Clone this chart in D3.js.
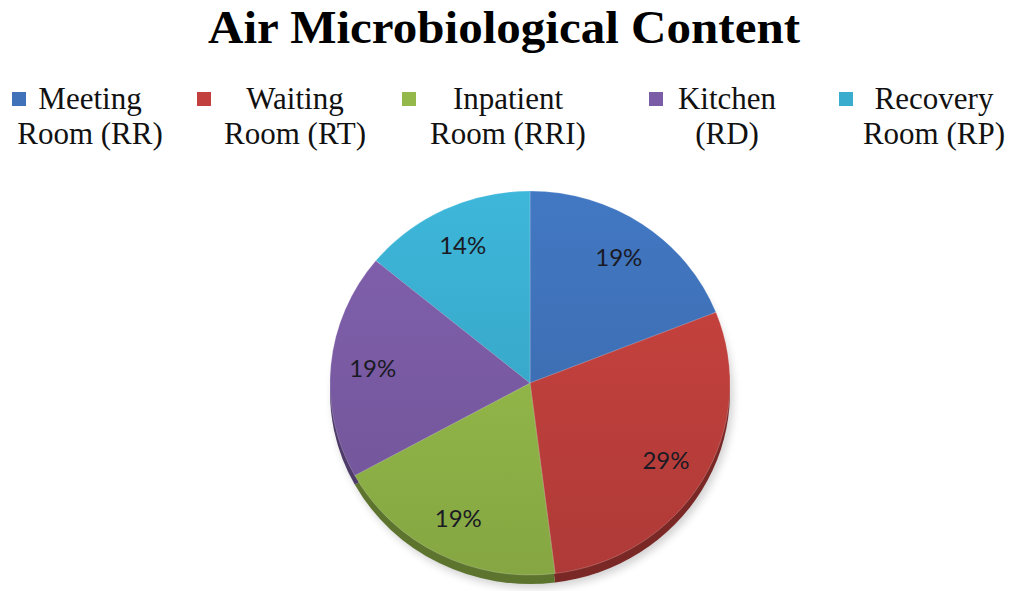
<!DOCTYPE html>
<html>
<head>
<meta charset="utf-8">
<script src="https://cdn.jsdelivr.net/npm/d3@7"></script>
<style>
  body { margin: 0; background: #fff; }
  .title { font-family: "Liberation Serif", serif; font-weight: bold; }
  .legend text { font-family: "Liberation Serif", serif; fill: #111; }
  .pct { font-family: Lato, "Open Sans", sans-serif; fill: #1a1a24; }
</style>
</head>
<body>
<div id="chart"></div>
<script>
// chart data
const categories = ["Meeting Room (RR)", "Waiting Room (RT)", "Inpatient Room (RRI)", "Kitchen (RD)", "Recovery Room (RP)"];
const legendLines = [["Meeting", "Room (RR)"], ["Waiting", "Room (RT)"], ["Inpatient", "Room (RRI)"], ["Kitchen", "(RD)"], ["Recovery", "Room (RP)"]];
const values = [19, 29, 19, 19, 14];
const colors = ["#3f72b9", "#c2403d", "#94b94a", "#7b5ca6", "#3aadcf"];

// layout
const width = 1011, height = 591;
const legendMarkX = [12, 197, 402, 649, 839];
const legendTextX = [90, 295, 508, 727, 934];

const svg = d3.select("#chart").append("svg")
    .attr("width", width)
    .attr("height", height);

// title
svg.append("text")
    .attr("class", "title")
    .attr("x", 504)
    .attr("y", 43)
    .attr("text-anchor", "middle")
    .attr("font-size", 47)
    .attr("textLength", 592)
    .attr("lengthAdjust", "spacingAndGlyphs")
    .text("Air Microbiological Content");

// legend
const legend = svg.append("g").attr("class", "legend");
categories.forEach((c, i) => {
    legend.append("rect")
        .attr("x", legendMarkX[i])
        .attr("y", 92)
        .attr("width", 14)
        .attr("height", 14)
        .attr("fill", colors[i]);
    const t = legend.append("text")
        .attr("text-anchor", "middle")
        .attr("font-size", 31);
    legendLines[i].forEach((line, j) => {
        t.append("tspan")
            .attr("x", legendTextX[i])
            .attr("y", 109 + j * 35)
            .text(line);
    });
});

// pie
const cx = 530, cy = 383, r = 200, sy = 0.96, depth = 9;

const defs = svg.append("defs");
colors.forEach((c, i) => {
    const g = defs.append("linearGradient")
        .attr("id", "grad" + i)
        .attr("gradientUnits", "userSpaceOnUse")
        .attr("x1", 0).attr("y1", -r)
        .attr("x2", 0).attr("y2", r);
    g.append("stop").attr("offset", "0%").attr("stop-color", d3.color(c).brighter(0.15));
    g.append("stop").attr("offset", "100%").attr("stop-color", d3.color(c).darker(0.3));
});

const shadow = defs.append("filter").attr("id", "blur")
    .attr("x", "-20%").attr("y", "-20%").attr("width", "140%").attr("height", "140%");
shadow.append("feGaussianBlur").attr("stdDeviation", 4);

const pie = d3.pie().sort(null).value(d => d);
const arc = d3.arc().innerRadius(0).outerRadius(r);
const labelArc = d3.arc().innerRadius(r * 0.79).outerRadius(r * 0.79);
const arcs = pie(values);

// soft shadow under the disc
svg.append("ellipse")
    .attr("cx", cx + 3)
    .attr("cy", cy + depth + 4)
    .attr("rx", r)
    .attr("ry", r * sy)
    .attr("fill", "#000")
    .attr("opacity", 0.18)
    .attr("filter", "url(#blur)");

// 3d edge
svg.append("g")
    .attr("transform", `translate(${cx}, ${cy + depth}) scale(1, ${sy})`)
    .selectAll("path")
    .data(arcs)
    .join("path")
    .attr("d", arc)
    .attr("fill", (d, i) => d3.color(colors[i]).darker(1.3));

const face = svg.append("g")
    .attr("transform", `translate(${cx}, ${cy}) scale(1, ${sy})`);

face.selectAll("path")
    .data(arcs)
    .join("path")
    .attr("d", arc)
    .attr("fill", (d, i) => `url(#grad${i})`)
    .attr("stroke", "rgba(255,255,255,0.25)")
    .attr("stroke-width", 0.8);

// percentage labels
const total = d3.sum(values);
svg.append("g")
    .attr("transform", `translate(${cx}, ${cy})`)
    .selectAll("text")
    .data(arcs)
    .join("text")
    .attr("class", "pct")
    .attr("x", d => labelArc.centroid(d)[0])
    .attr("y", d => labelArc.centroid(d)[1] * sy)
    .attr("dy", "0.35em")
    .attr("text-anchor", "middle")
    .attr("font-size", 24)
    .text(d => Math.round(d.value / total * 100) + "%");
</script>
</body>
</html>
